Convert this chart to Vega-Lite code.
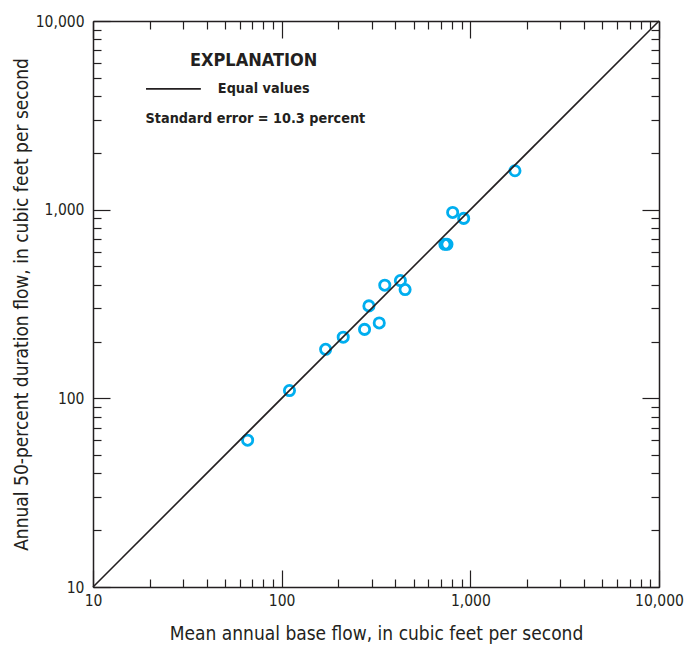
{
  "$schema": "https://vega.github.io/schema/vega-lite/v6.json",
  "width": 566,
  "height": 566,
  "autosize": {"type": "none"},
  "padding": {"left": 93, "top": 21, "right": 33, "bottom": 59},
  "background": "white",
  "config": {
    "view": {"stroke": null},
    "font": "Liberation Sans Narrow, DejaVu Sans Condensed, sans-serif",
    "axis": {
      "grid": false,
      "domainColor": "#231F20",
      "domainWidth": 1.5,
      "tickColor": "#231F20",
      "tickWidth": 1.2,
      "labelColor": "#231F20",
      "titleColor": "#231F20",
      "labelFont": "Liberation Sans Narrow, DejaVu Sans Condensed, sans-serif",
      "titleFont": "Liberation Sans Narrow, DejaVu Sans Condensed, sans-serif",
      "labelFontSize": 15.5,
      "titleFontSize": 19,
      "titleFontWeight": "normal"
    }
  },
  "datasets": {
    "sites": [
      {"base": 66, "dur": 60},
      {"base": 110, "dur": 110},
      {"base": 171, "dur": 182},
      {"base": 212, "dur": 211},
      {"base": 275, "dur": 232},
      {"base": 329, "dur": 251},
      {"base": 290, "dur": 309},
      {"base": 352, "dur": 398},
      {"base": 426, "dur": 421},
      {"base": 451, "dur": 377},
      {"base": 733, "dur": 655},
      {"base": 752, "dur": 655},
      {"base": 806, "dur": 967},
      {"base": 922, "dur": 899},
      {"base": 1724, "dur": 1608}
    ],
    "equal": [
      {"base": 10, "dur": 10},
      {"base": 10000, "dur": 10000}
    ],
    "legendline": [
      {"x1": 19.1, "x2": 37.3, "y": 4365}
    ],
    "legendtext": [
      {"x": 71, "y": 6140, "text": "EXPLANATION", "kind": "head"},
      {"x": 45.9, "y": 4365, "text": "Equal values", "kind": "item"},
      {"x": 19.0, "y": 3030, "text": "Standard error = 10.3 percent", "kind": "item"}
    ]
  },
  "layer": [
    {
      "data": {"name": "sites"},
      "mark": {"type": "point", "shape": "circle", "filled": false, "size": 105, "strokeWidth": 2.8, "color": "#00AEEF", "opacity": 1},
      "encoding": {
        "x": {
          "field": "base", "type": "quantitative",
          "scale": {"type": "log", "domain": [10, 10000], "nice": false},
          "axis": {
            "orient": "bottom",
            "title": "Mean annual base flow, in cubic feet per second",
            "titlePadding": 7,
            "values": [10,20,30,40,50,60,70,80,90,100,200,300,400,500,600,700,800,900,1000,2000,3000,4000,5000,6000,7000,8000,9000,10000],
            "labelExpr": "indexof([10,100,1000,10000], datum.value) >= 0 ? format(datum.value, ',') : ''",
            "tickSize": {"condition": {"test": "indexof([10,100,1000,10000], datum.value) >= 0", "value": -17}, "value": -8},
            "labelPadding": 23,
            "labelFlush": false,
            "labelOverlap": false
          }
        },
        "y": {
          "field": "dur", "type": "quantitative",
          "scale": {"type": "log", "domain": [10, 10000], "nice": false},
          "axis": {
            "orient": "left",
            "title": "Annual 50-percent duration flow, in cubic feet per second",
            "titlePadding": 4,
            "values": [10,20,30,40,50,60,70,80,90,100,200,300,400,500,600,700,800,900,1000,2000,3000,4000,5000,6000,7000,8000,9000,10000],
            "labelExpr": "indexof([10,100,1000,10000], datum.value) >= 0 ? format(datum.value, ',') : ''",
            "tickSize": {"condition": {"test": "indexof([10,100,1000,10000], datum.value) >= 0", "value": -17}, "value": -8},
            "labelPadding": 26,
            "labelFlush": false,
            "labelOverlap": false
          }
        }
      }
    },
    {
      "data": {"name": "equal"},
      "mark": {"type": "line", "color": "#231F20", "strokeWidth": 1.6},
      "encoding": {
        "x": {
          "field": "base", "type": "quantitative",
          "axis": {
            "orient": "top", "title": null, "labels": false,
            "values": [10,20,30,40,50,60,70,80,90,100,200,300,400,500,600,700,800,900,1000,2000,3000,4000,5000,6000,7000,8000,9000,10000],
            "tickSize": {"condition": {"test": "indexof([10,100,1000,10000], datum.value) >= 0", "value": -17}, "value": -8}
          }
        },
        "y": {
          "field": "dur", "type": "quantitative",
          "axis": {
            "orient": "right", "title": null, "labels": false,
            "values": [10,20,30,40,50,60,70,80,90,100,200,300,400,500,600,700,800,900,1000,2000,3000,4000,5000,6000,7000,8000,9000,10000],
            "tickSize": {"condition": {"test": "indexof([10,100,1000,10000], datum.value) >= 0", "value": -17}, "value": -8}
          }
        }
      }
    },
    {
      "data": {"name": "legendline"},
      "mark": {"type": "rule", "color": "#231F20", "strokeWidth": 1.6},
      "encoding": {
        "x": {"field": "x1", "type": "quantitative", "axis": null},
        "x2": {"field": "x2"},
        "y": {"field": "y", "type": "quantitative", "axis": null}
      }
    },
    {
      "data": {"name": "legendtext"},
      "transform": [{"filter": "datum.kind == 'head'"}],
      "mark": {"type": "text", "align": "center", "baseline": "middle", "fontSize": 18, "fontWeight": "bold", "color": "#231F20"},
      "encoding": {
        "x": {"field": "x", "type": "quantitative", "axis": null},
        "y": {"field": "y", "type": "quantitative", "axis": null},
        "text": {"field": "text"}
      }
    },
    {
      "data": {"name": "legendtext"},
      "transform": [{"filter": "datum.kind == 'item'"}],
      "mark": {"type": "text", "align": "left", "baseline": "middle", "fontSize": 14.3, "fontWeight": "bold", "color": "#231F20"},
      "encoding": {
        "x": {"field": "x", "type": "quantitative", "axis": null},
        "y": {"field": "y", "type": "quantitative", "axis": null},
        "text": {"field": "text"}
      }
    }
  ],
  "resolve": {"axis": {"x": "independent", "y": "independent"}}
}
